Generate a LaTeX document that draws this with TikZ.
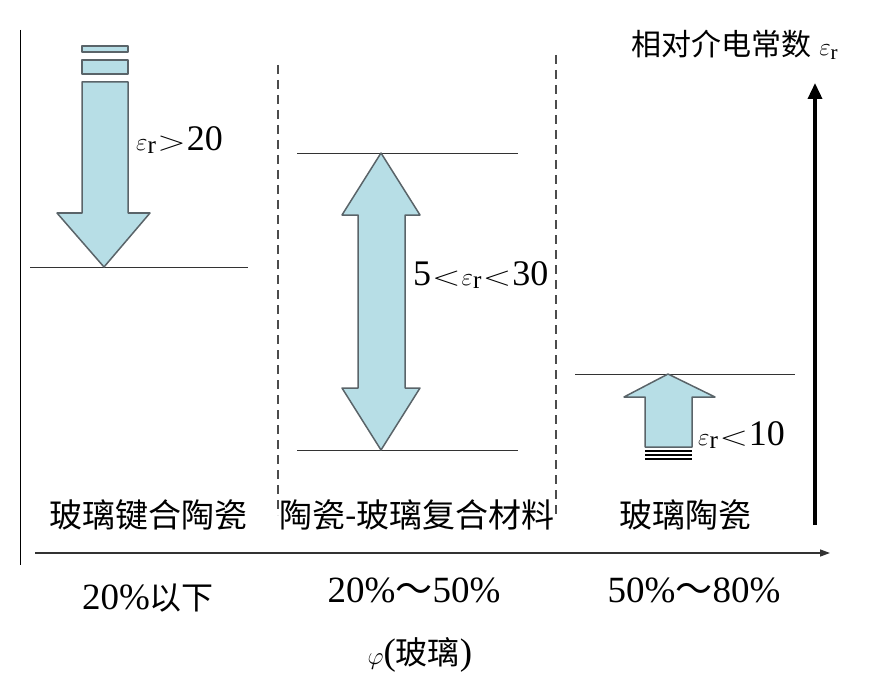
\documentclass[tikz,border=0pt]{standalone}
\usepackage{fontspec}
\setmainfont{Liberation Serif}
\newfontfamily\cjk{Noto Sans CJK SC}
\usetikzlibrary{arrows.meta}
\definecolor{ab}{RGB}{183,222,230}
\definecolor{ae}{RGB}{90,100,105}
\tikzset{blk/.style={fill=ab,draw=ae,line width=1.5pt,line join=round},
 hl/.style={draw=black!80,line width=0.9pt},
 lbl/.style={font=\fontsize{33}{36}\selectfont,inner sep=0pt},
 num/.style={font=\fontsize{37}{40}\selectfont,inner sep=0pt},
 er/.style={font=\fontsize{36}{40}\selectfont,inner sep=0pt}}
\newcommand{\epsr}{$\varepsilon_{\mathrm{r}}$}
\newcommand{\gtc}{\hspace{1pt}\scalebox{1.5}[1.1]{$>$}\hspace{1pt}}
\newcommand{\ltc}{\hspace{1pt}\scalebox{1.5}[1.1]{$<$}\hspace{1pt}}
\begin{document}
\begin{tikzpicture}[x=1pt,y=-1pt]
\useasboundingbox (0,0) rectangle (883,687);
\coordinate (l1) at (20,30); \coordinate (l2) at (20,565);
\draw[line width=1pt] (l1) -- (l2);
\coordinate (d1a) at (278,65); \coordinate (d1b) at (278,515);
\coordinate (d2a) at (556,55); \coordinate (d2b) at (556,515);
\draw[line width=1.5pt,black!70,dash pattern=on 9pt off 6pt] (d1a) -- (d1b) (d2a) -- (d2b);
% left arrow
\coordinate (hA) at (30,267); \coordinate (hB) at (248,267);
\draw[hl] (hA) -- (hB);
\draw[blk] (82,46) rectangle (128,52);
\draw[blk] (82,60) rectangle (128,74);
\draw[blk] (82,82) -- (128,82) -- (128,213) -- (150,213) -- (104,267) -- (57,213) -- (82,213) -- cycle;
\node[er,anchor=west] (t1) at (136,140) {\epsr\gtc 20};
% middle
\coordinate (mA) at (297,153); \coordinate (mB) at (518,153);
\coordinate (mC) at (297,450); \coordinate (mD) at (518,450);
\draw[hl] (mA) -- (mB) (mC) -- (mD);
\draw[blk] (381,153) -- (420,215) -- (405,215) -- (405,388) -- (420,388) -- (381,450) -- (342,388) -- (358,388) -- (358,215) -- (342,215) -- cycle;
\node[er,anchor=west] (t2) at (413,275) {5\ltc\epsr\ltc 30};
% right
\coordinate (rA) at (575,374); \coordinate (rB) at (795,374);
\draw[hl] (rA) -- (rB);
\draw[blk] (645,447) -- (645,397) -- (624,397) -- (668,374) -- (715,397) -- (692,397) -- (692,447) -- cycle;
\draw[line width=1.6pt] (645,451) -- (692,451) (645,455) -- (692,455) (645,459) -- (692,459);
\node[er,anchor=west] (t3) at (698,435) {\epsr\ltc 10};
% axes
\coordinate (y0) at (815,525); \coordinate (y1) at (815,83);
\draw[line width=3.5pt,-{Triangle[length=16pt,width=14pt]}] (y0) -- (y1);
\node[lbl,font=\fontsize{30}{34}\selectfont] (yl) at (735,45) {{\cjk 相对介电常数} \epsr};
\coordinate (x0) at (35,553); \coordinate (x1) at (830,553);
\draw[line width=1.3pt,black!80,-{Triangle[length=10pt,width=7pt]}] (x0) -- (x1);
\node[lbl] (c1) at (148,515) {\cjk 玻璃键合陶瓷};
\node[lbl] (c2) at (417,515) {\cjk 陶瓷-玻璃复合材料};
\node[lbl] (c3) at (685,515) {\cjk 玻璃陶瓷};
\node[num] (p1) at (148,598) {20\%{\cjk\fontsize{32}{36}\selectfont 以下}};
\node[num] (p2) at (414,590) {20\%{\cjk ～}50\%};
\node[num] (p3) at (694,590) {50\%{\cjk ～}80\%};
\node[num] (xl) at (420,655) {$\varphi$({\cjk\fontsize{32}{36}\selectfont 玻璃})};
\end{tikzpicture}
\end{document}
